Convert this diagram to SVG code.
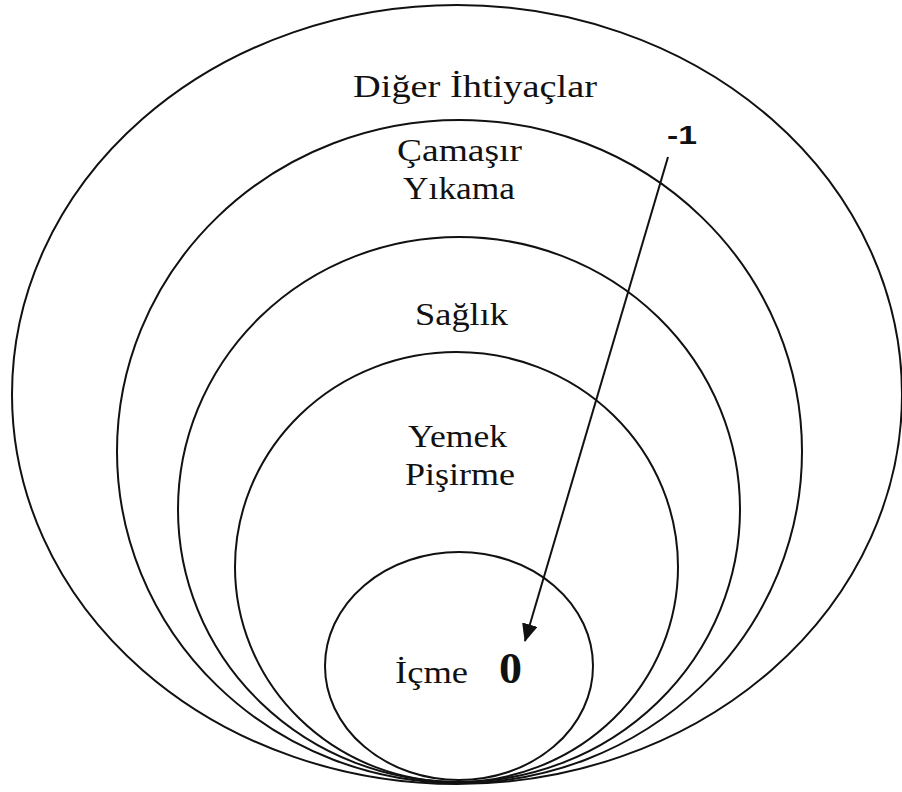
<svg xmlns="http://www.w3.org/2000/svg" width="902" height="792" viewBox="0 0 902 792">
<defs>
<style>
.ring{fill:none;stroke:#111;stroke-width:2}
.lbl{font-family:"Liberation Serif","Times New Roman",serif;font-size:32px;fill:#111}
.num{font-family:"Liberation Sans",Arial,sans-serif;font-weight:bold;font-size:26px;fill:#111}
.zero{font-family:"Liberation Serif","Times New Roman",serif;font-weight:bold;font-size:45px;fill:#111}
.conn{stroke:#111;stroke-width:2;fill:none}
</style>
<marker id="ah" viewBox="0 0 18 16" refX="17" refY="8" markerWidth="18" markerHeight="16" markerUnits="userSpaceOnUse" orient="auto">
<path d="M0,0 L18,8 L0,16 z" fill="#111"/>
</marker>
</defs>
<rect width="902" height="792" fill="#fff"/>
<g id="diger">
<ellipse class="ring" cx="457" cy="394.5" rx="445" ry="389.5"/>
<text class="lbl" x="353" y="97" textLength="244" lengthAdjust="spacingAndGlyphs">Diğer İhtiyaçlar</text>
</g>
<g id="camasir">
<ellipse class="ring" cx="459.5" cy="451.5" rx="342.5" ry="331.5"/>
<text class="lbl" x="397" y="161" textLength="125" lengthAdjust="spacingAndGlyphs">Çamaşır</text>
<text class="lbl" x="403" y="199" textLength="112" lengthAdjust="spacingAndGlyphs">Yıkama</text>
</g>
<g id="saglik">
<ellipse class="ring" cx="459" cy="509.5" rx="281" ry="272.5"/>
<text class="lbl" x="415" y="325" textLength="93" lengthAdjust="spacingAndGlyphs">Sağlık</text>
</g>
<g id="yemek">
<ellipse class="ring" cx="456.5" cy="567" rx="221.5" ry="215"/>
<text class="lbl" x="408" y="447" textLength="99" lengthAdjust="spacingAndGlyphs">Yemek</text>
<text class="lbl" x="405" y="485" textLength="110" lengthAdjust="spacingAndGlyphs">Pişirme</text>
</g>
<g id="icme">
<ellipse class="ring" cx="459" cy="666" rx="134" ry="114"/>
<text class="lbl" x="395" y="683" textLength="73" lengthAdjust="spacingAndGlyphs">İçme</text>
<text class="zero" x="499" y="683" textLength="23" lengthAdjust="spacingAndGlyphs">0</text>
</g>
<g id="minus1">
<text class="num" x="667" y="144" textLength="30" lengthAdjust="spacingAndGlyphs">-1</text>
</g>
<g id="connectors">
<line class="conn" x1="668" y1="157" x2="525" y2="641" marker-end="url(#ah)"/>
</g>
</svg>
